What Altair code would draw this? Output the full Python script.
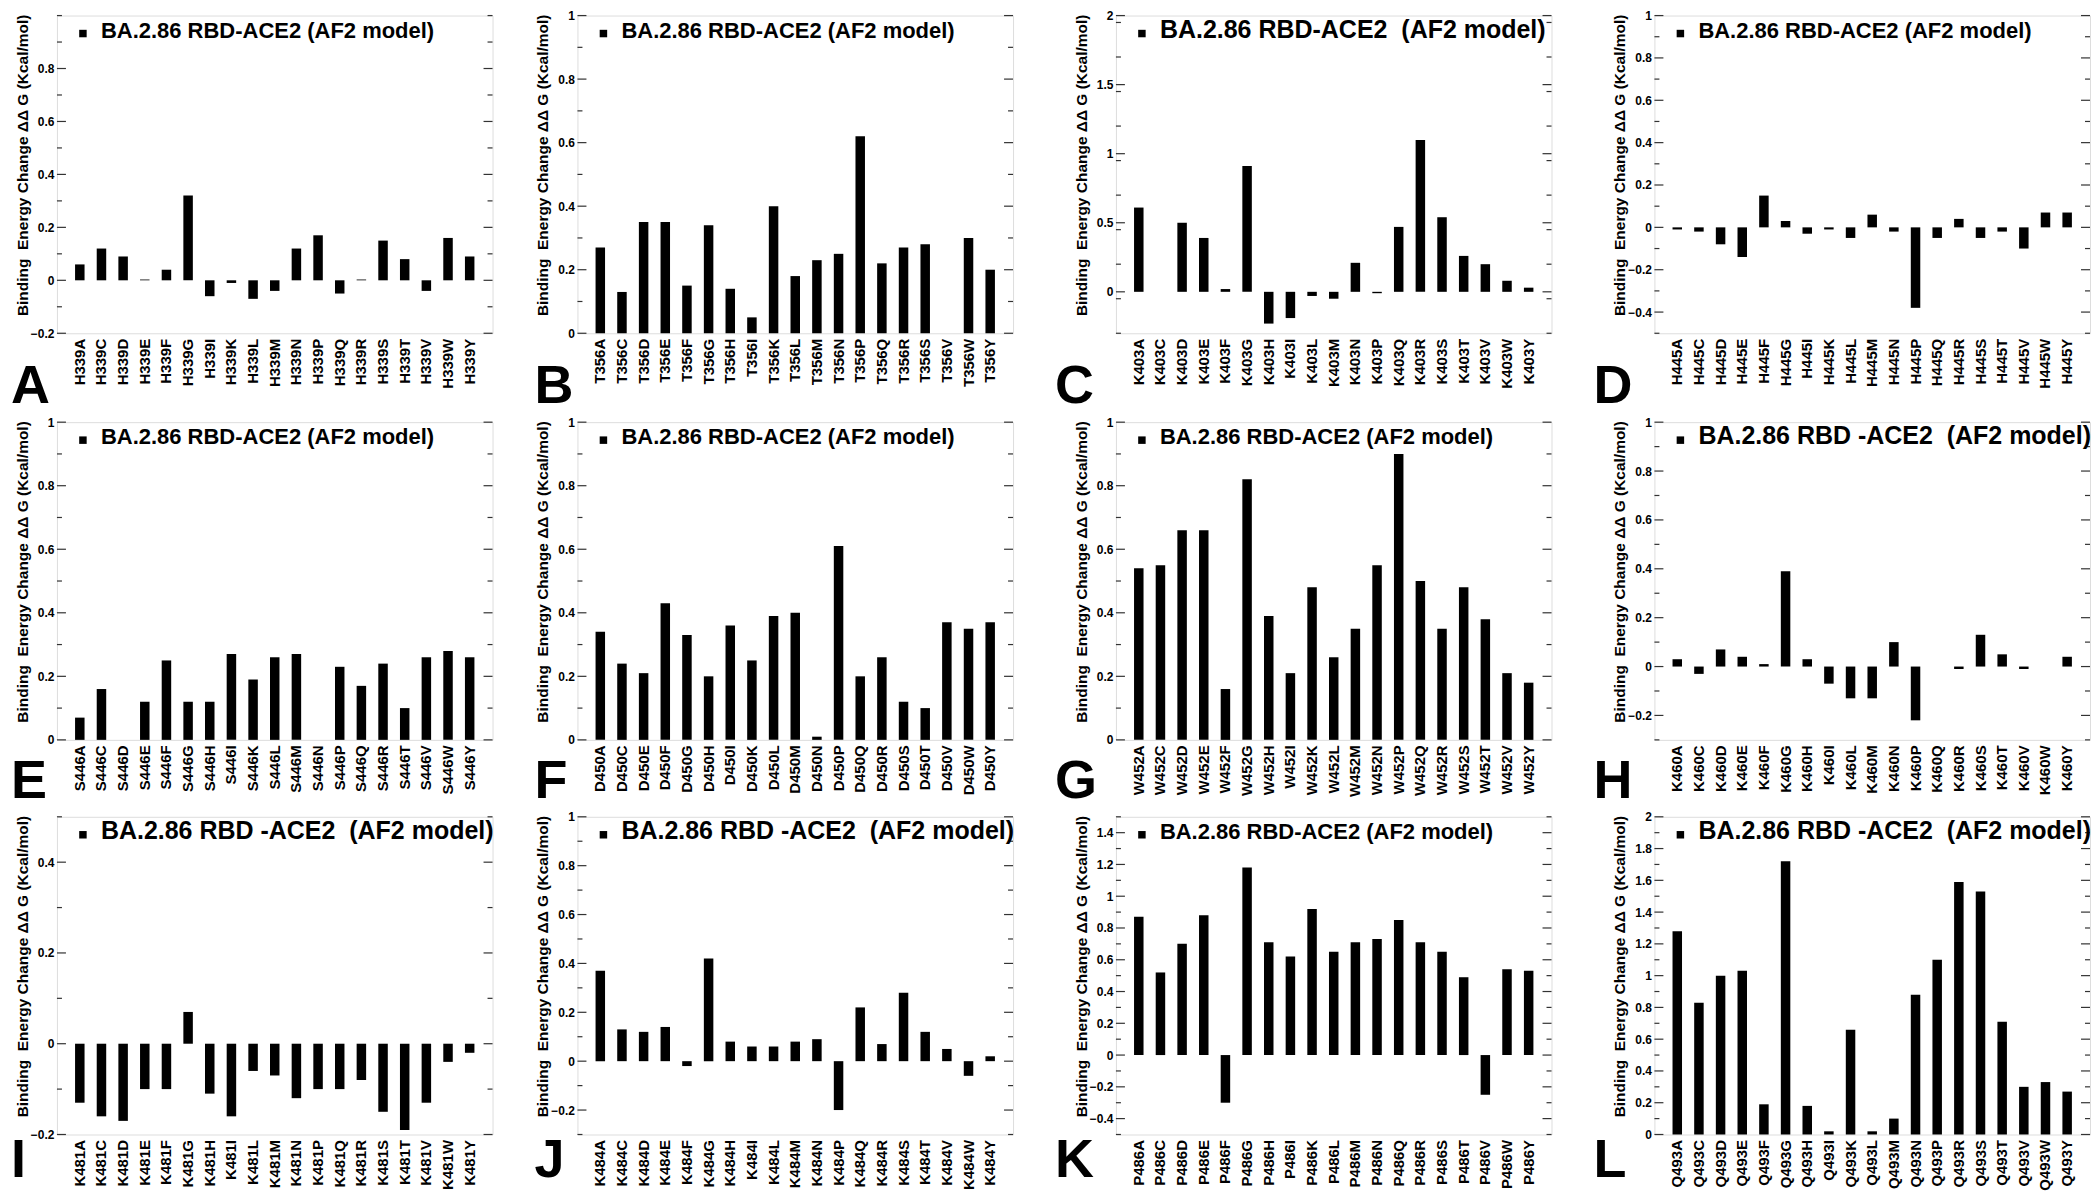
import altair as alt
import numpy as np
import pandas as pd

FONT = "Liberation Sans"
W, H = 436, 318

# ---------------- data ----------------
A_labels = ["H339A","H339C","H339D","H339E","H339F","H339G","H339I","H339K","H339L","H339M",
            "H339N","H339P","H339Q","H339R","H339S","H339T","H339V","H339W","H339Y"]
A_values = [0.06,0.12,0.09,0.003,0.04,0.32,-0.06,-0.01,-0.07,-0.04,0.12,0.17,-0.05,0.003,0.15,0.08,-0.04,0.16,0.09]

B_labels = ["T356A","T356C","T356D","T356E","T356F","T356G","T356H","T356I","T356K","T356L",
            "T356M","T356N","T356P","T356Q","T356R","T356S","T356V","T356W","T356Y"]
B_values = [0.27,0.13,0.35,0.35,0.15,0.34,0.14,0.05,0.40,0.18,0.23,0.25,0.62,0.22,0.27,0.28,0.0,0.30,0.20]

C_labels = ["K403A","K403C","K403D","K403E","K403F","K403G","K403H","K403I","K403L","K403M",
            "K403N","K403P","K403Q","K403R","K403S","K403T","K403V","K403W","K403Y"]
C_values = [0.61,0.0,0.50,0.39,0.02,0.91,-0.23,-0.19,-0.03,-0.05,0.21,-0.01,0.47,1.10,0.54,0.26,0.20,0.08,0.03]

D_labels = ["H445A","H445C","H445D","H445E","H445F","H445G","H445I","H445K","H445L","H445M",
            "H445N","H445P","H445Q","H445R","H445S","H445T","H445V","H445W","H445Y"]
D_values = [-0.01,-0.02,-0.08,-0.14,0.15,0.03,-0.03,-0.01,-0.05,0.06,-0.02,-0.38,-0.05,0.04,-0.05,-0.02,-0.10,0.07,0.07]

E_labels = ["S446A","S446C","S446D","S446E","S446F","S446G","S446H","S446I","S446K","S446L",
            "S446M","S446N","S446P","S446Q","S446R","S446T","S446V","S446W","S446Y"]
E_values = [0.07,0.16,0.0,0.12,0.25,0.12,0.12,0.27,0.19,0.26,0.27,0.0,0.23,0.17,0.24,0.10,0.26,0.28,0.26]

F_labels = ["D450A","D450C","D450E","D450F","D450G","D450H","D450I","D450K","D450L","D450M",
            "D450N","D450P","D450Q","D450R","D450S","D450T","D450V","D450W","D450Y"]
F_values = [0.34,0.24,0.21,0.43,0.33,0.20,0.36,0.25,0.39,0.40,0.01,0.61,0.20,0.26,0.12,0.10,0.37,0.35,0.37]

G_labels = ["W452A","W452C","W452D","W452E","W452F","W452G","W452H","W452I","W452K","W452L",
            "W452M","W452N","W452P","W452Q","W452R","W452S","W452T","W452V","W452Y"]
G_values = [0.54,0.55,0.66,0.66,0.16,0.82,0.39,0.21,0.48,0.26,0.35,0.55,0.90,0.50,0.35,0.48,0.38,0.21,0.18]

H_labels = ["K460A","K460C","K460D","K460E","K460F","K460G","K460H","K460I","K460L","K460M",
            "K460N","K460P","K460Q","K460R","K460S","K460T","K460V","K460W","K460Y"]
H_values = [0.03,-0.03,0.07,0.04,0.01,0.39,0.03,-0.07,-0.13,-0.13,0.10,-0.22,0.0,-0.01,0.13,0.05,-0.01,0.0,0.04]

I_labels = ["K481A","K481C","K481D","K481E","K481F","K481G","K481H","K481I","K481L","K481M",
            "K481N","K481P","K481Q","K481R","K481S","K481T","K481V","K481W","K481Y"]
I_values = [-0.13,-0.16,-0.17,-0.10,-0.10,0.07,-0.11,-0.16,-0.06,-0.07,-0.12,-0.10,-0.10,-0.08,-0.15,-0.19,-0.13,-0.04,-0.02]

J_labels = ["K484A","K484C","K484D","K484E","K484F","K484G","K484H","K484I","K484L","K484M",
            "K484N","K484P","K484Q","K484R","K484S","K484T","K484V","K484W","K484Y"]
J_values = [0.37,0.13,0.12,0.14,-0.02,0.42,0.08,0.06,0.06,0.08,0.09,-0.20,0.22,0.07,0.28,0.12,0.05,-0.06,0.02]

K_labels = ["P486A","P486C","P486D","P486E","P486F","P486G","P486H","P486I","P486K","P486L",
            "P486M","P486N","P486Q","P486R","P486S","P486T","P486V","P486W","P486Y"]
K_values = [0.87,0.52,0.70,0.88,-0.30,1.18,0.71,0.62,0.92,0.65,0.71,0.73,0.85,0.71,0.65,0.49,-0.25,0.54,0.53]

L_labels = ["Q493A","Q493C","Q493D","Q493E","Q493F","Q493G","Q493H","Q493I","Q493K","Q493L",
            "Q493M","Q493N","Q493P","Q493R","Q493S","Q493T","Q493V","Q493W","Q493Y"]
L_values = [1.28,0.83,1.00,1.03,0.19,1.72,0.18,0.02,0.66,0.02,0.10,0.88,1.10,1.59,1.53,0.71,0.30,0.33,0.27]

# y tick labels per panel
A_ticks = [-0.2, 0, 0.2, 0.4, 0.6, 0.8]
B_ticks = [0, 0.2, 0.4, 0.6, 0.8, 1]
C_ticks = [0, 0.5, 1, 1.5, 2]
D_ticks = [-0.4, -0.2, 0, 0.2, 0.4, 0.6, 0.8, 1]
E_ticks = [0, 0.2, 0.4, 0.6, 0.8, 1]
F_ticks = [0, 0.2, 0.4, 0.6, 0.8, 1]
G_ticks = [0, 0.2, 0.4, 0.6, 0.8, 1]
H_ticks = [-0.2, 0, 0.2, 0.4, 0.6, 0.8, 1]
I_ticks = [-0.2, 0, 0.2, 0.4]
J_ticks = [-0.2, 0, 0.2, 0.4, 0.6, 0.8, 1]
K_ticks = [-0.4, -0.2, 0, 0.2, 0.4, 0.6, 0.8, 1, 1.2, 1.4]
L_ticks = [0, 0.2, 0.4, 0.6, 0.8, 1, 1.2, 1.4, 1.6, 1.8, 2]

LEG1 = "BA.2.86 RBD-ACE2 (AF2 model)"
LEG2 = "BA.2.86 RBD-ACE2\u00a0 (AF2 model)"
LEG3 = "BA.2.86 RBD -ACE2\u00a0 (AF2 model)"
YTITLE = "Binding\u00a0 Energy Change \u0394\u0394 G (Kcal/mol)"

panels = [
    ("A", A_labels, A_values, [-0.2, 1.0], A_ticks, 0.1, LEG1, 22),
    ("B", B_labels, B_values, [0, 1], B_ticks, 0.1, LEG1, 22),
    ("C", C_labels, C_values, [-0.3, 2], C_ticks, 0.25, LEG2, 25),
    ("D", D_labels, D_values, [-0.5, 1], D_ticks, 0.1, LEG1, 22),
    ("E", E_labels, E_values, [0, 1], E_ticks, 0.1, LEG1, 22),
    ("F", F_labels, F_values, [0, 1], F_ticks, 0.1, LEG1, 22),
    ("G", G_labels, G_values, [0, 1], G_ticks, 0.1, LEG1, 22),
    ("H", H_labels, H_values, [-0.3, 1], H_ticks, 0.1, LEG3, 25),
    ("I", I_labels, I_values, [-0.2, 0.5], I_ticks, 0.1, LEG3, 25),
    ("J", J_labels, J_values, [-0.3, 1], J_ticks, 0.1, LEG3, 25),
    ("K", K_labels, K_values, [-0.5, 1.5], K_ticks, 0.1, LEG1, 22),
    ("L", L_labels, L_values, [0, 2], L_ticks, 0.1, LEG3, 25),
]

LETTER_DX = [-46, -43, -61, -61]   # per column (left edge of the letter box)
LETTER_DY = [70, 58, 43]           # per row (baseline below frame bottom)


def minor_ticks(dom, step, majors):
    vals = np.round(np.arange(dom[0], dom[1] + 1e-9, step), 4)
    return [float(v) for v in vals if all(abs(v - m) > 1e-6 for m in majors)]


def panel(idx, letter, labels, values, dom, majors, mstep, legend, lsize):
    row, col = divmod(idx, 4)
    df = pd.DataFrame({"name": labels, "value": values, "base": [0.0] * len(values)})
    yscale = alt.Scale(domain=dom, nice=False, zero=False)
    yaxis = alt.Axis(values=majors, format="~g", title=None, grid=False,
                     ticks=False, tickSize=0, domain=False,
                     labelFont=FONT, labelFontSize=12, labelFontWeight="bold",
                     labelColor="black", labelPadding=3,
                     minExtent=22, maxExtent=22)

    bars = alt.Chart(df).mark_bar(color="black", size=9.5).encode(
        x=alt.X("name:N", sort=labels,
                scale=alt.Scale(paddingInner=0, paddingOuter=0.555),
                axis=alt.Axis(title=None, labelAngle=270, labelFont=FONT, labelFontSize=15,
                              labelFontWeight="bold", labelColor="black", ticks=False,
                              domain=False, labelPadding=5, labelOverlap=False, grid=False)),
        y=alt.Y("value:Q", scale=yscale, axis=yaxis),
        y2="base:Q",
    )

    def ticks(vals, x0, x1):
        tdf = pd.DataFrame({"value": vals})
        return alt.Chart(tdf).mark_rule(color="#333333", strokeWidth=1.2).encode(
            y=alt.Y("value:Q", scale=yscale, axis=yaxis),
            x=alt.value(x0), x2=alt.value(x1))

    mins = minor_ticks(dom, mstep, majors)
    layers = [bars,
              ticks(majors, 0, 9), ticks(majors, W - 9, W),
              ticks(mins, 0, 5), ticks(mins, W - 5, W)]

    # y-axis title, anchored at the top of the frame
    ytitle = alt.Chart(pd.DataFrame({"k": [YTITLE]})).mark_text(
        font=FONT, fontSize=15.5, fontWeight="bold", color="black",
        angle=270, align="right", baseline="bottom").encode(
        x=alt.value(-26), y=alt.value(-1), text="k:N")
    sq = alt.Chart(pd.DataFrame({"k": [legend]})).mark_square(
        color="black", size=56, opacity=1, filled=True).encode(
        x=alt.value(26), y=alt.value(18))
    txt = alt.Chart(pd.DataFrame({"k": [legend]})).mark_text(
        font=FONT, fontSize=lsize, fontWeight="bold", color="black",
        align="left", baseline="alphabetic").encode(
        x=alt.value(44), y=alt.value(22), text="k:N")
    let = alt.Chart(pd.DataFrame({"k": [letter]})).mark_text(
        font=FONT, fontSize=54, fontWeight="bold", color="black",
        align="left", baseline="alphabetic").encode(
        x=alt.value(LETTER_DX[col]), y=alt.value(H + LETTER_DY[row]), text="k:N")
    layers += [ytitle, sq, txt, let]
    return alt.layer(*layers).properties(width=W, height=H)


charts = [panel(i, *p) for i, p in enumerate(panels)]

r1 = alt.hconcat(*charts[0:4], spacing=39)
r2 = alt.hconcat(*charts[4:8], spacing=39)
r3 = alt.hconcat(*charts[8:12], spacing=39)
chart = alt.vconcat(r1, r2, r3, spacing=0).properties(
    padding={"left": 2, "top": 0, "right": 0, "bottom": 0},
    background="white",
).configure_view(stroke="#555555", strokeWidth=1.3).configure(font=FONT)

chart.save("out.html", embed_options={"renderer": "svg", "actions": False})
